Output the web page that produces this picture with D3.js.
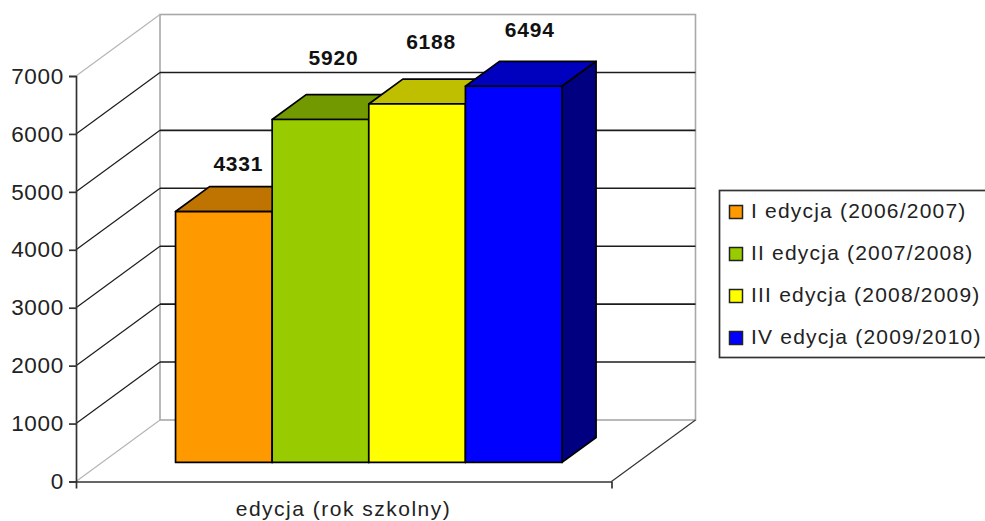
<!DOCTYPE html>
<html>
<head>
<meta charset="utf-8">
<script src="https://cdn.jsdelivr.net/npm/d3@7"></script>
<style>
html, body { margin: 0; padding: 0; background: #fff; overflow: hidden; }
svg { display: block; }
text { font-family: "Liberation Sans", Arial, sans-serif; }
</style>
</head>
<body>
<div id="chart"></div>
<script>
// Enrolment per edition
const editions = ["I edycja (2006/2007)", "II edycja (2007/2008)", "III edycja (2008/2009)", "IV edycja (2009/2010)"];
const values = [4331, 5920, 6188, 6494];
const frontColors = ["#FF9900", "#99CC00", "#FFFF00", "#0000FF"];
const topColors = ["#BF7300", "#739900", "#BFBF00", "#0000BF"];
const sideColors = ["#804D00", "#4D6600", "#808000", "#000080"];
const yTicks = [0, 1000, 2000, 3000, 4000, 5000, 6000, 7000];
const axisTitle = "edycja (rok szkolny)";

// Value labels sit a little differently above each column
const labelLift = [23, 37, 38, 32];
const labelShift = [-2.5, -4, -3, -1];

const width = 985, height = 521;
const plane = { left: 76, right: 611.5, bottom: 481.5, top: 76 };
const wall = { dx: 84, dy: -61.5 };     // oblique offset from front plane to back wall
const barDepth = { start: 0.31, end: 0.715 };

const svg = d3.select("#chart").append("svg").attr("width", width).attr("height", height);

const y = d3.scaleLinear().domain([0, 7000]).range([plane.bottom, plane.top]);
const x = d3.scaleBand().domain(editions).range([plane.left + 73.5, plane.left + 73.5 + 386.5]);

// Project a plane position back along the oblique depth axis
const project = (px, py, d) => [px + wall.dx * d, py + wall.dy * d];
const path = pts => "M" + pts.map(p => p.join(",")).join("L") + "Z";
const line = (a, b, color, w = 1.4) => svg.append("line")
  .attr("x1", a[0]).attr("y1", a[1]).attr("x2", b[0]).attr("y2", b[1])
  .attr("stroke", color).attr("stroke-width", w);

const wallGray = "#a8a8a8", dark = "#1c1c1c";

// Back wall frame
svg.append("rect")
  .attr("x", plane.left + wall.dx).attr("y", plane.top + wall.dy)
  .attr("width", plane.right - plane.left)
  .attr("height", plane.bottom - plane.top)
  .attr("fill", "#fff").attr("stroke", wallGray).attr("stroke-width", 1.6);

// Gridlines across the side wall and the back wall
yTicks.forEach(t => {
  const front = [plane.left, y(t)];
  const back = project(plane.left, y(t), 1);
  const edge = t === 0 || t === 7000;
  line(front, back, edge ? "#b4b4b4" : dark, edge ? 1.1 : 1.2);
  if (!edge) line(back, project(plane.right, y(t), 1), dark, 1.6);
});
line([plane.right, plane.bottom], project(plane.right, plane.bottom, 1), "#333", 1.2);

// Columns, each drawn as top, side and front faces
editions.forEach((name, i) => {
  const x0 = x(name), x1 = x0 + x.bandwidth();
  const yTop = y(values[i]), yBase = y(0);
  const { start: s, end: e } = barDepth;
  const faces = svg.append("g").attr("stroke", "#000").attr("stroke-width", 1.7).attr("stroke-linejoin", "round");
  faces.append("path").attr("fill", topColors[i])
    .attr("d", path([project(x0, yTop, s), project(x1, yTop, s), project(x1, yTop, e), project(x0, yTop, e)]));
  faces.append("path").attr("fill", sideColors[i])
    .attr("d", path([project(x1, yTop, s), project(x1, yTop, e), project(x1, yBase, e), project(x1, yBase, s)]));
  faces.append("path").attr("fill", frontColors[i])
    .attr("d", path([project(x0, yTop, s), project(x1, yTop, s), project(x1, yBase, s), project(x0, yBase, s)]));
});

// Value labels go on last so no column face can cover them
editions.forEach((name, i) => {
  const { start: s, end: e } = barDepth;
  const [lx] = project(x(name) + x.bandwidth() / 2, y(values[i]), (s + e) / 2);
  const topY = project(0, y(values[i]), e)[1];
  svg.append("text")
    .attr("x", lx + labelShift[i]).attr("y", topY - labelLift[i])
    .attr("text-anchor", "middle").attr("dominant-baseline", "central")
    .attr("font-size", 21).attr("font-weight", "bold").attr("fill", "#111")
    .attr("letter-spacing", 0.8)
    .text(values[i]);
});

// Value axis
const yAxis = svg.append("g").attr("transform", `translate(${plane.left},0)`)
  .call(d3.axisLeft(y).tickValues(yTicks).tickSize(7).tickPadding(5).tickFormat(d3.format("d")));
yAxis.selectAll("text").attr("font-size", 22.5).attr("letter-spacing", 0.7).attr("fill", "#222").style("font-family", '"Liberation Sans", Arial, sans-serif');
yAxis.selectAll("line, path").attr("stroke", "#333").attr("stroke-width", 1.7);

// Category axis: one unlabelled span with end ticks
const xAxisScale = d3.scaleLinear().domain([0, 1]).range([plane.left, plane.right]);
const xAxis = svg.append("g").attr("transform", `translate(0,${plane.bottom})`)
  .call(d3.axisBottom(xAxisScale).tickValues([0, 1]).tickSize(7).tickSizeOuter(0).tickFormat(""));
xAxis.selectAll("line, path").attr("stroke", "#333").attr("stroke-width", 1.7);

svg.append("text")
  .attr("x", 343.5).attr("y", 516).attr("text-anchor", "middle")
  .attr("font-size", 21).attr("letter-spacing", 1.5).attr("fill", "#222").text(axisTitle);

// Legend
const legend = svg.append("g");
legend.append("rect")
  .attr("x", 719.5).attr("y", 190.5).attr("width", 275).attr("height", 167)
  .attr("fill", "#fff").attr("stroke", "#333").attr("stroke-width", 1.7);
const legendRow = d3.scalePoint().domain(editions).range([212, 338]);
editions.forEach((name, i) => {
  const cy = legendRow(name);
  legend.append("rect")
    .attr("x", 729.5).attr("y", cy - 6.5).attr("width", 13).attr("height", 13)
    .attr("fill", frontColors[i]).attr("stroke", "#222").attr("stroke-width", 1.5);
  legend.append("text")
    .attr("x", 751).attr("y", cy - 2).attr("dominant-baseline", "central")
    .attr("font-size", 21).attr("letter-spacing", 1.2).attr("fill", "#222").text(name);
});
</script>
</body>
</html>
